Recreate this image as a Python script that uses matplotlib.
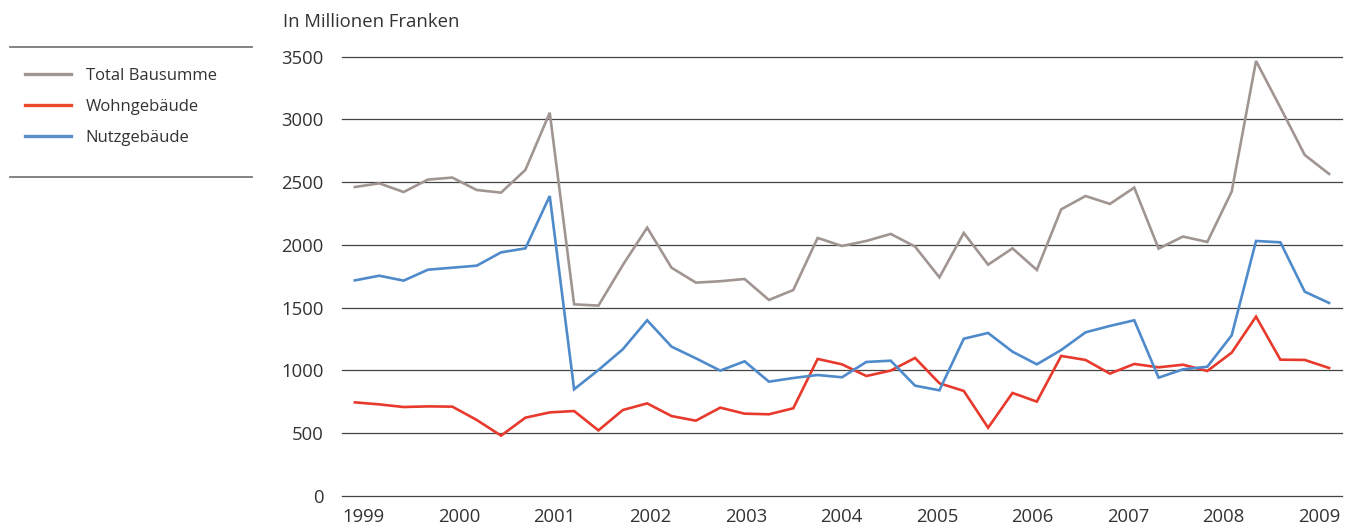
import numpy as np
import matplotlib
matplotlib.use("Agg")
import matplotlib.pyplot as plt
from matplotlib.lines import Line2D

plt.rcParams["font.family"] = ["Open Sans", "DejaVu Sans"]

# Quarterly building volumes, 1999 Q1 to 2009 Q1 (million CHF)
total_bausumme = [2462, 2491, 2422, 2521, 2537, 2438, 2417, 2598, 3054, 1527,
                  1517, 1840, 2138, 1819, 1700, 1711, 1729, 1562, 1641, 2056,
                  1992, 2032, 2088, 1987, 1742, 2096, 1843, 1973, 1801, 2284,
                  2390, 2327, 2457, 1971, 2067, 2024, 2425, 3466, 3095, 2717,
                  2566]
wohngebaeude = [746, 730, 709, 714, 712, 606, 481, 624, 666, 677,
                523, 685, 738, 637, 600, 704, 656, 651, 699, 1092,
                1049, 956, 999, 1100, 898, 837, 544, 821, 752, 1116,
                1084, 975, 1052, 1025, 1046, 996, 1142, 1429, 1086, 1084,
                1020]
nutzgebaeude = [1718, 1755, 1716, 1803, 1819, 1835, 1941, 1973, 2390, 850,
                1004, 1169, 1400, 1190, 1097, 999, 1073, 911, 940, 964,
                946, 1068, 1078, 879, 842, 1253, 1299, 1150, 1049, 1163,
                1304, 1355, 1400, 943, 1009, 1030, 1280, 2032, 2021, 1628,
                1538]
year_labels = ["1999", "2000", "2001", "2002", "2003", "2004",
               "2005", "2006", "2007", "2008", "2009"]
series_names = ["Total Bausumme", "Wohngebäude", "Nutzgebäude"]
y_ticks = [0, 500, 1000, 1500, 2000, 2500, 3000, 3500]

colors = ["#a19591", "#e8392d", "#4f8acb"]
legend_colors = ["#a19591", "#e84a2a", "#5a8fcc"]
text_color = "#333333"

W, H = 1358, 529
fig = plt.figure(figsize=(W / 100, H / 100), dpi=100)
ax = fig.add_axes([342 / W, 1 - 496 / H, 1000 / W, (496 - 56.7) / H])

x = np.arange(len(total_bausumme))
for vals, col, name in zip([total_bausumme, wohngebaeude, nutzgebaeude],
                           colors, series_names):
    ax.plot(x, vals, color=col, lw=1.9, label=name,
            solid_joinstyle="miter", zorder=3)

ax.set_xlim(-0.53, len(x) - 1 + 0.53)
ax.set_ylim(0, 3500)
ax.set_yticks(y_ticks)
ax.set_yticklabels([str(v) for v in y_ticks])
ax.set_xticks(np.linspace(0.35, 39.6, len(year_labels)))
ax.set_xticklabels(year_labels)

ax.grid(axis="y", color="#444444", lw=0.9)
ax.set_axisbelow(True)
for s in ax.spines.values():
    s.set_visible(False)
ax.tick_params(axis="both", length=0, labelsize=13.3, labelcolor=text_color)
ax.tick_params(axis="y", pad=13)
ax.tick_params(axis="x", pad=9)
for gl in ax.get_ygridlines():
    gl.set_clip_on(False)

fig.text(283 / W, 1 - 27.3 / H, "In Millionen Franken", fontsize=13.3,
         color=text_color, ha="left", va="baseline")

# legend block with rules above and below
for yy in (47.3, 176.7):
    fig.add_artist(Line2D([10 / W, 252 / W], [1 - yy / H, 1 - yy / H],
                          color="#7a7a7a", lw=1.3))

legend_handles = [Line2D([], [], color=c, lw=2.4) for c in legend_colors]
leg = fig.legend(handles=legend_handles, labels=series_names, loc="upper left",
                 bbox_to_anchor=(25 / W, 1 - 68 / H), frameon=False,
                 fontsize=12, handlelength=2.75, handletextpad=0.9,
                 labelspacing=0.89, borderpad=0, borderaxespad=0)
for t in leg.get_texts():
    t.set_color(text_color)

fig.savefig("out.png", dpi=100)
